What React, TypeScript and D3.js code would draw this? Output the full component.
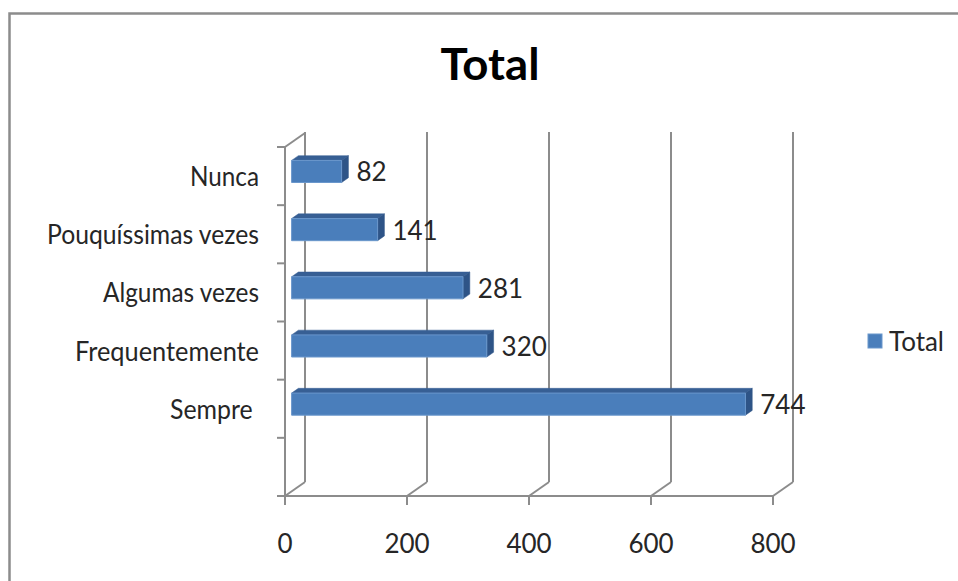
import React from 'react';
import * as d3 from 'd3';

const categories = ['Nunca', 'Pouquíssimas vezes', 'Algumas vezes', 'Frequentemente', 'Sempre ', ''];
const categoryLabelWidths = [69, 212, 156, 184, 89, 0];
const values = [82, 141, 281, 320, 744];
const xTicks = [0, 200, 400, 600, 800];
const seriesName = 'Total';
const chartTitle = 'Total';

const FONT = 'Lato, "Open Sans", sans-serif';

export default function App() {
  const W = 958;
  const H = 581;
  const frontTop = 147;
  const frontBottom = 496;
  const DX = 20;
  const DY = -14;
  const d1 = 0.33;
  const d2 = 0.67;

  const x = d3.scaleLinear().domain([0, 800]).range([285, 773]);
  const y = d3
    .scaleBand<string>()
    .domain(categories)
    .range([frontTop, frontBottom])
    .paddingInner(0.62)
    .paddingOuter(0.31);
  const step = y.step();

  const pt = (px: number, py: number, d: number) => `${px + d * DX},${py + d * DY}`;

  const gridColor = '#8c8c8c';
  const textColor = '#262626';

  const boundaries = d3.range(categories.length + 1).map((i) => frontTop + i * step);

  return (
    <svg
      width={W}
      height={H}
      style={{ position: 'absolute', left: 0, top: 0, background: '#fff' }}
      fontFamily={FONT}
    >
      <rect x={0} y={0} width={W} height={H} fill="#fff" />
      {/* outer chart border */}
      <rect x={9.5} y={13.5} width={1200} height={1200} fill="none" stroke="#8c8c8c" strokeWidth={2.5} />

      {/* title */}
      <text x={490} y={80} textAnchor="middle" fontSize={44} fontWeight="bold" fill="#000" textLength={99} lengthAdjust="spacingAndGlyphs">
        {chartTitle}
      </text>

      {/* back wall / gridlines & floor */}
      <g stroke={gridColor} strokeWidth={2} fill="none">
        {xTicks.map((t) => (
          <g key={t}>
            <line x1={x(t) + DX} y1={frontBottom + DY} x2={x(t) + DX} y2={frontTop + DY - 1} />
            <line x1={x(t)} y1={frontBottom} x2={x(t) + DX} y2={frontBottom + DY} />
            <line x1={x(t)} y1={frontBottom} x2={x(t)} y2={frontBottom + 9} />
          </g>
        ))}
        <line x1={x(0)} y1={frontBottom} x2={x(800)} y2={frontBottom} />
        <line x1={x(0)} y1={frontTop} x2={x(0)} y2={frontBottom} />
        <line x1={x(0)} y1={frontTop} x2={x(0) + DX} y2={frontTop + DY} />
        {boundaries.map((b, i) => (
          <line key={i} x1={x(0) - 8} y1={b} x2={x(0)} y2={b} />
        ))}
      </g>

      {/* bars */}
      {values.map((v, i) => {
        const top = y(categories[i]) as number;
        const bot = top + y.bandwidth();
        const x0 = x(0);
        const xv = x(v);
        const topFace = [pt(x0, top, d1), pt(xv, top, d1), pt(xv, top, d2), pt(x0, top, d2)].join(' ');
        const sideFace = [pt(xv, top, d1), pt(xv, top, d2), pt(xv, bot, d2), pt(xv, bot, d1)].join(' ');
        const frontFace = [pt(x0, top, d1), pt(xv, top, d1), pt(xv, bot, d1), pt(x0, bot, d1)].join(' ');
        return (
          <g key={i}>
            <polygon points={topFace} fill="#375f94" stroke="#375f94" strokeWidth={0.5} />
            <polygon points={sideFace} fill="#2e5487" stroke="#2e5487" strokeWidth={0.5} />
            <polygon points={frontFace} fill="#4a7ebb" stroke="#6a97cc" strokeWidth={1} />
          </g>
        );
      })}

      {/* data labels */}
      {values.map((v, i) => {
        const center = (y(categories[i]) as number) + y.bandwidth() / 2 + d1 * DY;
        return (
          <text key={i} x={x(v) + d2 * DX + 8} y={center + 10} fontSize={26} fill={textColor}>
            {v}
          </text>
        );
      })}

      {/* category labels */}
      {categories.map((c, i) => {
        const center = frontTop + (i + 0.5) * step;
        if (!c) return null;
        return (
          <text
            key={i}
            x={259}
            y={center + 10}
            textAnchor="end"
            fontSize={26}
            fill={textColor}
            xmlSpace="preserve"
            style={{ whiteSpace: 'pre' }}
            textLength={categoryLabelWidths[i]}
            lengthAdjust="spacingAndGlyphs"
          >
            {c}
          </text>
        );
      })}

      {/* x tick labels */}
      {xTicks.map((t) => (
        <text key={t} x={x(t)} y={553} textAnchor="middle" fontSize={26} fill={textColor}>
          {t}
        </text>
      ))}

      {/* legend */}
      <rect x={868} y={334} width={14} height={14} fill="#4a7ebb" stroke="#6a97cc" strokeWidth={1} />
      <text x={889} y={351} fontSize={26} fill={textColor} textLength={55} lengthAdjust="spacingAndGlyphs">
        {seriesName}
      </text>
    </svg>
  );
}
